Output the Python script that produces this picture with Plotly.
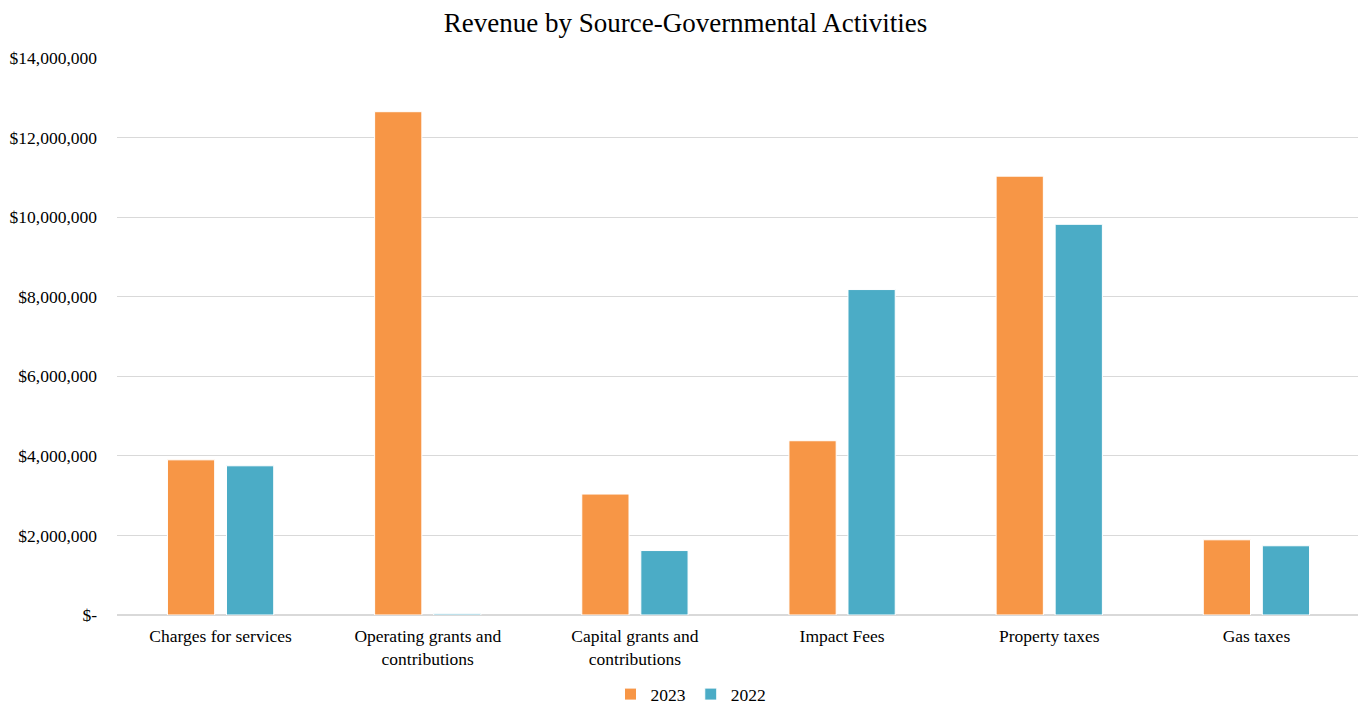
import plotly.graph_objects as go

categories = ["Charges for services", "Operating grants and<br>contributions",
              "Capital grants and<br>contributions", "Impact Fees", "Property taxes", "Gas taxes"]
rev_2023 = [3900000, 12650000, 3040000, 4380000, 11030000, 1890000]
rev_2022 = [3750000, 30000, 1620000, 8180000, 9820000, 1740000]
tick_vals = [0, 2000000, 4000000, 6000000, 8000000, 10000000, 12000000, 14000000]
tick_text = ["$-", "$2,000,000", "$4,000,000", "$6,000,000", "$8,000,000",
             "$10,000,000", "$12,000,000", "$14,000,000"]

font = "Liberation Serif"
fig = go.Figure()
fig.add_trace(go.Bar(x=categories, y=rev_2023, name="2023",
                     marker=dict(color="#F79646", line=dict(color="white", width=1))))
fig.add_trace(go.Bar(x=categories, y=rev_2022, name="2022",
                     marker=dict(color="#4BACC6", line=dict(color="white", width=1))))

fig.update_layout(
    width=1366, height=706,
    paper_bgcolor="white", plot_bgcolor="white",
    title=dict(text="Revenue by Source-Governmental Activities", x=0.496, xanchor="center",
               xref="container", y=0.98, yanchor="middle",
               font=dict(family=font, size=27, color="black")),
    font=dict(family=font, size=17.5, color="black"),
    margin=dict(l=109, r=14, t=50, b=99, autoexpand=False),
    barmode="group", bargap=0.43, bargroupgap=0.2,
    legend=dict(orientation="h", x=0.5, xanchor="center", xref="container",
                yref="container", y=0.028,
                yanchor="middle", font=dict(family=font, size=17.5, color="black"),
                itemwidth=30, tracegroupgap=0),
    xaxis=dict(showgrid=False, showline=True, linecolor="#d9d9d9", ticks="",
               automargin=False, ticklabelstandoff=5,
               tickfont=dict(family=font, size=17.5, color="black")),
    yaxis=dict(range=[0, 14000000], tickvals=tick_vals, ticktext=tick_text,
               showgrid=True, gridcolor="#d9d9d9", zeroline=True, zerolinecolor="#d9d9d9",
               ticks="", automargin=False, ticklabelstandoff=19,
               tickfont=dict(family=font, size=17.5, color="black")),
)
fig.write_html("out.html")
